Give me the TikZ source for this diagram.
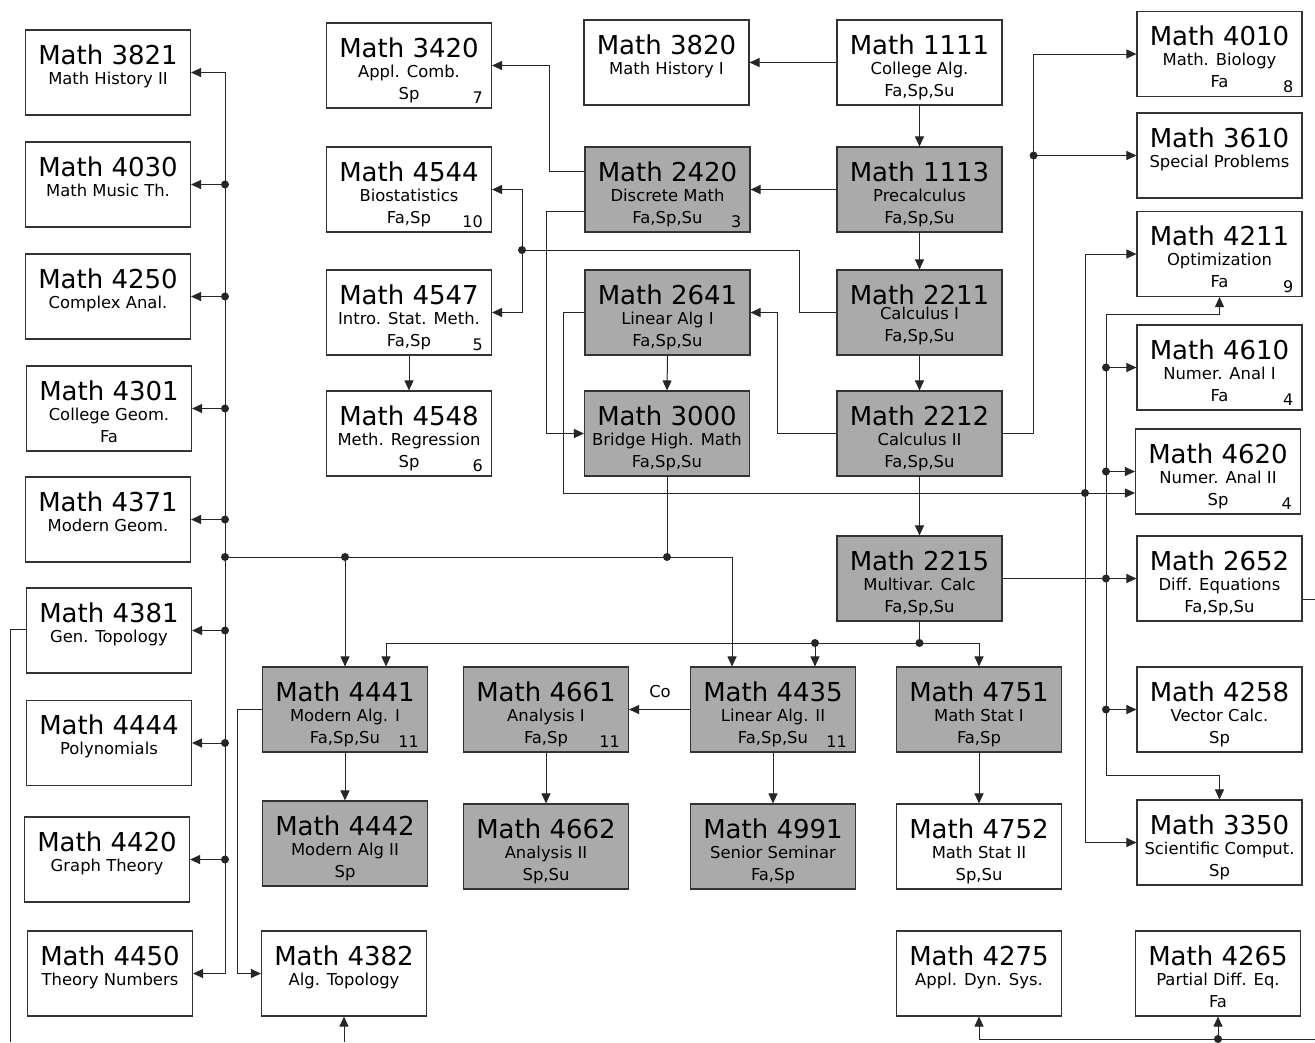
\documentclass[tikz,border=0pt]{standalone}
\usepackage{fontspec}
\setmainfont{DejaVu Sans}
\usetikzlibrary{arrows.meta}

\definecolor{coregrey}{RGB}{170,170,170}

% box with course number, title and terms; optional arg raises the lower lines
\newcommand{\course}[7][0pt]{%
  \node[box,#4] (#2) at (#3) {};
  \node[ttl] (#2-t) at ([yshift=-35pt]#2.north) {Math #5};
  \node[sub] (#2-s) at ([yshift=-55pt+#1]#2.north) {#6};
  \node[sub] (#2-f) at ([yshift=-77pt+#1]#2.north) {#7};
}
\newcommand{\seqno}[2]{\node[num] (#1-n) at ([xshift=-9pt,yshift=5pt]#1.south east) {#2};}

\begin{document}
\begin{tikzpicture}[x=1pt,y=-1pt,
    box/.style={draw=black!80,line width=1.1pt,minimum width=165pt,minimum height=85pt,inner sep=0pt},
    core/.style={fill=coregrey},
    elective/.style={fill=white},
    ttl/.style={font=\fontsize{26}{26}\selectfont,anchor=base,inner sep=0pt},
    sub/.style={font=\fontsize{16.4}{16.4}\selectfont,anchor=base,inner sep=0pt},
    num/.style={font=\fontsize{16}{16}\selectfont,anchor=base east,inner sep=0pt},
    link/.style={draw=black!85,line width=1pt},
    arr/.style={link,-{Triangle[length=10pt,width=9pt]}}]
  \fill[white] (0,0) rectangle (1315,1042);
  \useasboundingbox (0,0) rectangle (1315,1042);

  \course{c3821}{108,72.5}{elective}{3821}{Math History II}{}
  \course{c4030}{108,184.5}{elective}{4030}{Math Music Th.}{}
  \course{c4250}{108,296.5}{elective}{4250}{Complex Anal.}{}
  \course{c4301}{109,408.5}{elective}{4301}{College Geom.}{Fa}
  \course{c4371}{108,519.5}{elective}{4371}{Modern Geom.}{}
  \course{c4381}{109,630.5}{elective}{4381}{Gen. Topology}{}
  \course{c4444}{109,743}{elective}{4444}{Polynomials}{}
  \course{c4420}{107,859.5}{elective}{4420}{Graph Theory}{}
  \course{c4450}{110,973.5}{elective}{4450}{Theory Numbers}{}

  \course{c3420}{409,65.5}{elective}{3420}{Appl. Comb.}{Sp}
  \course{c4544}{409,189.5}{elective}{4544}{Biostatistics}{Fa,Sp}
  \course{c4547}{409,312.5}{elective}{4547}{Intro. Stat. Meth.}{Fa,Sp}
  \course{c4548}{409,433.5}{elective}{4548}{Meth. Regression}{Sp}

  \course{c3820}{666.5,62.5}{elective}{3820}{Math History I}{}
  \course{c2420}{667.5,189.5}{core}{2420}{Discrete Math}{Fa,Sp,Su}
  \course{c2641}{667.5,312.5}{core}{2641}{Linear Alg I}{Fa,Sp,Su}
  \course{c3000}{667,433.5}{core}{3000}{Bridge High. Math}{Fa,Sp,Su}

  \course{c1111}{919.5,62.5}{elective}{1111}{College Alg.}{Fa,Sp,Su}
  \course{c1113}{919.5,189.5}{core}{1113}{Precalculus}{Fa,Sp,Su}
  \course[5pt]{c2211}{919.5,312.5}{core}{2211}{Calculus I}{Fa,Sp,Su}
  \course{c2212}{919.5,433.5}{core}{2212}{Calculus II}{Fa,Sp,Su}
  \course{c2215}{919.5,578.5}{core}{2215}{Multivar. Calc}{Fa,Sp,Su}

  \course{c4010}{1219.5,54}{elective}{4010}{Math. Biology}{Fa}
  \course{c3610}{1219.5,155.5}{elective}{3610}{Special Problems}{}
  \course{c4211}{1219.5,254}{elective}{4211}{Optimization}{Fa}
  \course{c4610}{1219.5,367.5}{elective}{4610}{Numer. Anal I}{Fa}
  \course{c4620}{1218,471.5}{elective}{4620}{Numer. Anal II}{Sp}
  \course{c2652}{1219.5,578.5}{elective}{2652}{Diff. Equations}{Fa,Sp,Su}
  \course{c4258}{1219.5,709.5}{elective}{4258}{Vector Calc.}{Sp}
  \course{c3350}{1219.5,842.5}{elective}{3350}{Scientific Comput.}{Sp}
  \course{c4265}{1218,973.5}{elective}{4265}{Partial Diff. Eq.}{Fa}

  \course{c4441}{345,709.5}{core}{4441}{Modern Alg. I}{Fa,Sp,Su}
  \course{c4442}{345,843.5}{core}{4442}{Modern Alg II}{Sp}
  \course{c4382}{344,973.5}{elective}{4382}{Alg. Topology}{}
  \course{c4661}{546,709.5}{core}{4661}{Analysis I}{Fa,Sp}
  \course{c4662}{546,846.5}{core}{4662}{Analysis II}{Sp,Su}
  \course{c4435}{773,709.5}{core}{4435}{Linear Alg. II}{Fa,Sp,Su}
  \course{c4991}{773,846.5}{core}{4991}{Senior Seminar}{Fa,Sp}
  \course{c4751}{979,709.5}{core}{4751}{Math Stat I}{Fa,Sp}
  \course{c4752}{979,846.5}{elective}{4752}{Math Stat II}{Sp,Su}
  \course{c4275}{979,973.5}{elective}{4275}{Appl. Dyn. Sys.}{}

  \seqno{c3420}{7}
  \seqno{c4544}{10}
  \seqno{c4547}{5}
  \seqno{c4548}{6}
  \seqno{c2420}{3}
  \seqno{c4010}{8}
  \seqno{c4211}{9}
  \seqno{c4610}{4}
  \seqno{c4620}{4}
  \seqno{c4441}{11}
  \seqno{c4661}{11}
  \seqno{c4435}{11}

  \coordinate (lbus) at (225,557);
  \coordinate (j3000) at (c3000.south |- lbus);
  \coordinate (j4441) at (c4441.north |- lbus);
  \coordinate (j45) at (522,250);
  \coordinate (j36) at ([xshift=31pt]c2212.east |- c3610.west);
  \coordinate (j2215) at (919.5,643);
  \coordinate (j4435) at ([xshift=42pt]c4435.north |- j2215);
  \coordinate (r26) at (1106,578.5);
  \coordinate (rtop) at (1106,314);
  \coordinate (rbot) at (1106,775);
  \coordinate (q86) at (1085,493);
  \coordinate (e4381) at (10,1042);
  \coordinate (e2652) at (1315,599);
  \coordinate (ebot) at (1315,1039);

  % first year chain
  \draw[arr] (c1111.west) -- (c3820.east);
  \draw[arr] (c1111.south) -- (c1113.north);
  \draw[arr] (c1113.south) -- (c2211.north);
  \draw[arr] (c2211.south) -- (c2212.north);
  \draw[arr] (c2212.south) -- (c2215.north);
  \draw[arr] (c1113.west) -- (c2420.east);
  \draw[arr] ([yshift=18pt]c2420.west) -- ++(-35,0) |- (c3420.east);
  \draw[arr] ([yshift=-21.5pt]c2420.west) -- ++(-38,0) |- (c3000.west);
  \draw[link] (c2211.west) -- ++(-37,0) |- (j45);
  \draw[arr] (j45) |- (c4544.east);
  \draw[arr] (j45) |- (c4547.east);
  \draw[arr] (c4547.south) -- (c4548.north);
  \draw[arr] (c2212.west) -- ++(-59,0) |- (c2641.east);
  \draw[arr] (c2641.south) -- (c3000.north);
  \draw[arr] (c2212.east) -- ++(31,0) |- (c4010.west);
  \draw[arr] (j36) -- (c3610.west);

  % numerical courses
  \draw[arr] (c2641.west) -- ++(-21,0) |- ([yshift=-21.5pt]c4620.west);
  \draw[arr] (q86) |- (c4211.west);
  \draw[arr] (q86) |- (c3350.west);
  \draw[arr] (c2215.east) -- (c2652.west);
  \draw[link] (rtop) -- (rbot);
  \draw[arr] (rtop) -| (c4211.south);
  \draw[arr] (rbot) -| (c3350.north);
  \draw[arr] (rtop |- c4610.west) -- (c4610.west);
  \draw[arr] (rtop |- c4620.west) -- (c4620.west);
  \draw[arr] (rtop |- c4258.west) -- (c4258.west);

  % upper level
  \draw[link] (c3000.south) -- (j3000);
  \draw[link] (lbus) -- (j3000);
  \draw[arr] (j3000) -| ([xshift=-41pt]c4435.north);
  \draw[arr] (j4441) -- (c4441.north);
  \draw[arr] (lbus) |- (c3821.east);
  \draw[arr] (lbus) |- (c4450.east);
  \foreach \c in {c4030,c4250,c4301,c4371,c4381,c4444,c4420} {
    \draw[arr] (lbus |- \c.east) -- (\c.east);
    \fill[black!85] (lbus |- \c.east) circle (4pt);
  }
  \draw[link] (c2215.south) -- (j2215);
  \draw[arr] (j2215) -| ([xshift=41pt]c4441.north);
  \draw[arr] (j2215) -| (c4751.north);
  \draw[arr] (j4435) -- ([xshift=42pt]c4435.north);
  \draw[arr] (c4435.west) -- (c4661.east);
  \node[sub] (co) at (660,697) {Co};
  \draw[arr] (c4441.south) -- (c4442.north);
  \draw[arr] (c4661.south) -- (c4662.north);
  \draw[arr] (c4435.south) -- (c4991.north);
  \draw[arr] (c4751.south) -- (c4752.north);
  \draw[arr] (c4441.west) -- ++(-24,0) |- (c4382.west);

  % lines leaving the page
  \draw[link] ([yshift=1.5pt]c4381.west) -| (e4381);
  \draw[arr] (c4382.south |- e4381) -- (c4382.south);
  \draw[link] (c2652.east |- e2652) -- (e2652);
  \draw[arr] (ebot) -| (c4275.south);
  \draw[arr] (c4265.south |- ebot) -- (c4265.south);

  \fill[black!85] (lbus) circle (4pt);
  \fill[black!85] (j3000) circle (4pt);
  \fill[black!85] (j4441) circle (4pt);
  \fill[black!85] (j45) circle (4pt);
  \fill[black!85] (j36) circle (4pt);
  \fill[black!85] (j2215) circle (4pt);
  \fill[black!85] (j4435) circle (4pt);
  \fill[black!85] (r26) circle (4pt);
  \fill[black!85] (q86) circle (4pt);
  \fill[black!85] (rtop |- c4610.west) circle (4pt);
  \fill[black!85] (rtop |- c4620.west) circle (4pt);
  \fill[black!85] (rtop |- c4258.west) circle (4pt);
  \fill[black!85] (c4265.south |- ebot) circle (4pt);
\end{tikzpicture}
\end{document}
